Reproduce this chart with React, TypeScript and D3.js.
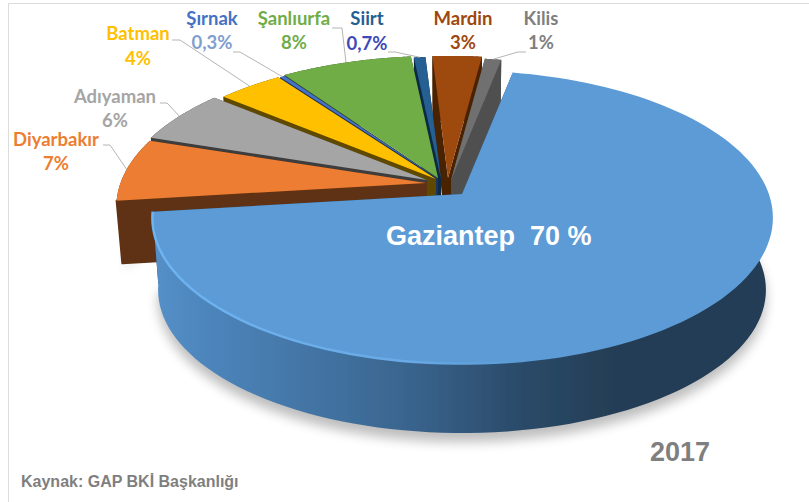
import React from "react";
import * as d3 from "d3";

const categories = ["Gaziantep", "Diyarbakır", "Adıyaman", "Batman", "Şırnak", "Şanlıurfa", "Siirt", "Mardin", "Kilis"];
const shares = [70, 7, 6, 4, 0.3, 8, 0.7, 3, 1];
const shareLabels = ["70 %", "7%", "6%", "4%", "0,3%", "8%", "0,7%", "3%", "1%"];
const faceColors = ["#5b9bd5", "#ed7d31", "#a5a5a5", "#ffc000", "#4472c4", "#70ad47", "#255e91", "#9e480e", "#6f6f6f"];
const wallColors = ["#2c4a68", "#5f3213", "#3d3d3d", "#5f4800", "#1c3360", "#2f4a1e", "#0e2a45", "#4a2106", "#505050"];
const labelColors = ["#fff", "#ed7d31", "#a5a5a5", "#ffc000", "#4472c4", "#70ad47", "#255e91", "#9e480e", "#7f7f7f"];
const valueColors = ["#fff", "#ed7d31", "#a5a5a5", "#ffc000", "#7f9fd0", "#70ad47", "#3f48b8", "#9e480e", "#7f7f7f"];

// explosion offsets of each slice from the shared pie centre
const offsetX = [36, 0, 1, 10, 12, 12, 15, 22, 25];
const offsetY = [14, 3, 0, -1, -1, -2, -1, -2, 0];
// label anchor, elbow side
const labelX = [0, 56, 115, 138, 212, 294, 367, 463, 541];
const labelY1 = [0, 146, 103, 40, 25, 25, 25, 25, 25];
const labelY2 = [0, 170, 127, 65, 49, 49, 50, 49, 49];
const elbowX = [0, 110, 167, 180, 240, 342, 395, 0, 518];
const elbowY = [0, 145, 103, 40, 52, 28, 52, 0, 52];
const elbowFromX = [0, 103, 160, 172, 233, 332, 388, 0, 526];

const W = 809, H = 502;
const cx = 426, cy = 180, rx = 305.5, ry = 142, k = 0.163, depth = 63, depthMain = 73, bottomR = 0.982;
const DEG = Math.PI / 180;

const pieAngles = d3.pie<number>().sort(null).startAngle(11 * DEG).endAngle(371 * DEG)(shares);

const proj = (a: number, ox: number, oy: number, dz = 0, r = 1): [number, number] => {
  const u = r * Math.sin(a), v = -r * Math.cos(a), w = 1 - k * v;
  return [cx + ox + (rx * u) / w, cy + oy + (ry * v) / w + dz];
};
const line = d3.line<[number, number]>();
const arcPts = (a0: number, a1: number, ox: number, oy: number, dz = 0, r = 1) =>
  d3.range(0, 121).map((i) => proj(a0 + ((a1 - a0) * i) / 120, ox, oy, dz, r));

export default function App() {
  const mid = (i: number) => (pieAngles[i].startAngle + pieAngles[i].endAngle) / 2;
  const order = d3.range(shares.length).sort((p, q) => {
    const key = (i: number) => (i === 0 ? 99 : -Math.cos(mid(i)));
    return key(p) - key(q);
  });
  const main = pieAngles[0];
  const mainFront = arcPts(main.startAngle, main.endAngle, offsetX[0], offsetY[0], depthMain, bottomR);
  const orange = pieAngles[1];
  return (
    <svg width={W} height={H} style={{ position: "absolute", left: 0, top: 0, background: "#fff" }}>
      <defs>
        <linearGradient id="wallMain" gradientUnits="userSpaceOnUse" x1={152} x2={773} y1={0} y2={0}>
          <stop offset="0" stopColor="#5590c8" />
          <stop offset="0.1" stopColor="#4c84ba" />
          <stop offset="0.4" stopColor="#3a6690" />
          <stop offset="0.6" stopColor="#2a4a68" />
          <stop offset="0.75" stopColor="#243d54" />
          <stop offset="1" stopColor="#233c54" />
        </linearGradient>
        <linearGradient id="bevel" gradientUnits="userSpaceOnUse" x1={152} x2={773} y1={0} y2={0}>
          <stop offset="0" stopColor="#6db4f0" />
          <stop offset="0.4" stopColor="#6aaae6" />
          <stop offset="0.6" stopColor="#5b9bd5" />
          <stop offset="1" stopColor="#5b9bd5" />
        </linearGradient>
        <filter id="blurShadow" x="-10%" y="-30%" width="120%" height="160%">
          <feGaussianBlur stdDeviation="6" />
        </filter>
        <filter id="soft" x="-5%" y="-5%" width="110%" height="110%">
          <feGaussianBlur stdDeviation="0.6" />
        </filter>
      </defs>
      <path d="M8.5 502V3.5H809" fill="none" stroke="#dcdcdc" />
      {/* ground shadow */}
      <path d={line(mainFront.map(([x, y]) => [x, y + 9]))! + "Z"} fill="#000" opacity={0.26} filter="url(#blurShadow)" />
      <path d={line(arcPts(orange.startAngle, orange.startAngle + 12 * DEG, offsetX[1] + 3, offsetY[1], depth + 6, bottomR))! + `L190 200Z`}
        fill="#000" opacity={0.18} filter="url(#blurShadow)" />
      <g filter="url(#soft)">
        {order.map((i) => {
          const s = pieAngles[i];
          const ox = offsetX[i], oy = offsetY[i];
          const dz = i === 0 ? depthMain : depth;
          const apex = proj(0, ox, oy, 0, 0);
          const a = proj(s.startAngle, ox, oy);
          const b = proj(s.endAngle, ox, oy);
          const a2 = proj(s.startAngle, ox, oy, dz, bottomR);
          const b2 = proj(s.endAngle, ox, oy, dz, bottomR);
          const apex2: [number, number] = [apex[0], apex[1] + dz];
          const rimTop = arcPts(s.startAngle, s.endAngle, ox, oy);
          const rimBottom = arcPts(s.startAngle, s.endAngle, ox, oy, dz, bottomR);
          const wallFill = i === 0 ? "url(#wallMain)" : wallColors[i];
          return (
            <g key={categories[i]}>
              <path d={line([apex, a, a2, apex2])! + "Z"} fill={wallColors[i]} stroke={wallColors[i]} strokeWidth={i === 1 ? 2 : 0} strokeLinejoin="round" />
              <path d={line([apex, b, b2, apex2])! + "Z"} fill={wallColors[i]} />
              <path d={line([...rimTop, ...rimBottom.slice().reverse()])! + "Z"} fill={wallFill} />
              <path d={line([apex, ...rimTop])! + "Z"} fill={faceColors[i]} />
              {i === 0 && <path d={line(rimTop)!} fill="none" stroke="url(#bevel)" strokeWidth={2.5} />}
            </g>
          );
        })}
      </g>
      {/* leader lines */}
      {categories.map((c, i) => {
        if (!elbowX[i]) return null;
        const rim = proj(mid(i), offsetX[i], offsetY[i]);
        return (
          <path key={c} d={line([[elbowFromX[i], elbowY[i]], [elbowX[i], elbowY[i]], rim])!}
            fill="none" stroke="#b5b5b5" strokeWidth={1} />
        );
      })}
      {/* labels */}
      {categories.map((c, i) =>
        i === 0 ? null : (
          <g key={c} textAnchor="middle" fontFamily="Lato, 'Open Sans', sans-serif" fontWeight={700} fontSize={18.5}>
            <text x={labelX[i]} y={labelY1[i]} fill={labelColors[i]}>{c}</text>
            <text x={labelX[i]} y={labelY2[i]} fill={valueColors[i]}>{shareLabels[i]}</text>
          </g>
        )
      )}
      <text x={386} y={245} fill="#fff" fontFamily="'Liberation Sans', Arial, sans-serif" fontWeight={700} fontSize={27} xmlSpace="preserve">
        {`${categories[0]}  ${shareLabels[0]}`}
      </text>
      <text x={650} y={461} fill="#7f7f7f" fontFamily="'Liberation Sans', Arial, sans-serif" fontWeight={700} fontSize={27}>2017</text>
      <text x={21} y={487} fill="#7f7f7f" fontFamily="'Liberation Sans', Arial, sans-serif" fontWeight={700} fontSize={16}>Kaynak: GAP BKİ Başkanlığı</text>
    </svg>
  );
}
